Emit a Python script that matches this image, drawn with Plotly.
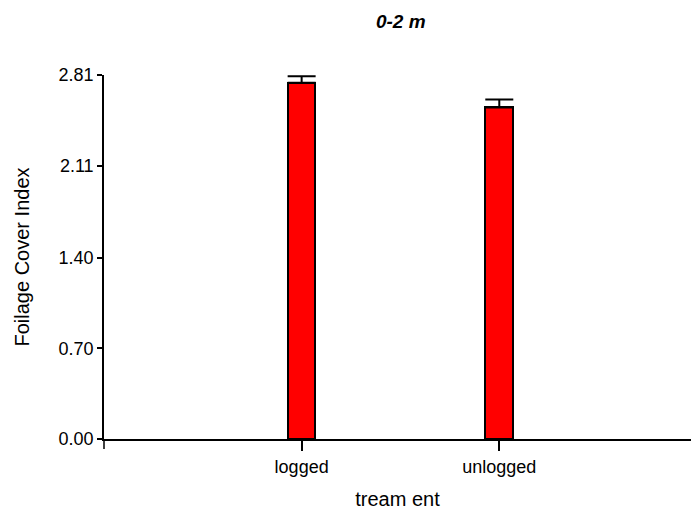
import plotly.graph_objects as go

# Foliage cover index in the 0-2 m stratum by treatment
treatments = ["logged", "unlogged"]
mean_cover = [2.75, 2.56]
se_cover = [0.05, 0.06]
y_ticks = [0.00, 0.70, 1.40, 2.11, 2.81]
y_tick_labels = ["0.00", "0.70", "1.40", "2.11", "2.81"]

FONT = "Liberation Sans, Arial, sans-serif"
PLOT_H = 510 - 75 - 71

fig = go.Figure()
fig.add_trace(go.Bar(
    x=treatments,
    y=mean_cover,
    width=0.14,
    marker=dict(color="#ff0000", line=dict(color="black", width=2)),
    error_y=dict(type="data", array=se_cover, arrayminus=[0] * len(se_cover),
                 symmetric=False, color="black", thickness=2, width=14),
))

# y axis line continues a little below the zero line
fig.add_shape(type="line", xref="paper", yref="paper",
              x0=0, x1=0, y0=0, y1=-10 / PLOT_H,
              line=dict(color="black", width=1.5))

fig.update_layout(
    width=691, height=510,
    margin=dict(l=104, r=0, t=75, b=71),
    plot_bgcolor="white", paper_bgcolor="white",
    showlegend=False,
    font=dict(family=FONT, color="black", size=17),
    title=dict(text="<b><i>0-2 m</i></b>", x=0.58, xanchor="center",
               y=1 - 21 / 510, yanchor="middle", yref="container",
               font=dict(family=FONT, size=19)),
    bargap=0,
)
fig.update_xaxes(
    range=[-1, 1.97],
    showline=True, linecolor="black", linewidth=2,
    ticks="outside", ticklen=10, tickwidth=1.5, tickcolor="black",
    showgrid=False, zeroline=False,
    tickfont=dict(size=18),
    title=dict(text="tream ent", font=dict(size=20), standoff=18),
    automargin=False,
)
fig.update_yaxes(
    range=[0, 2.81],
    tickvals=y_ticks, ticktext=y_tick_labels,
    showline=True, linecolor="black", linewidth=1.5,
    ticks="outside", ticklen=5, tickwidth=1.5, tickcolor="black",
    showgrid=False, zeroline=False,
    tickfont=dict(size=18),
    title=dict(text="Foilage Cover Index", font=dict(size=20), standoff=24),
    automargin=False,
)

fig.write_html("out.html")
